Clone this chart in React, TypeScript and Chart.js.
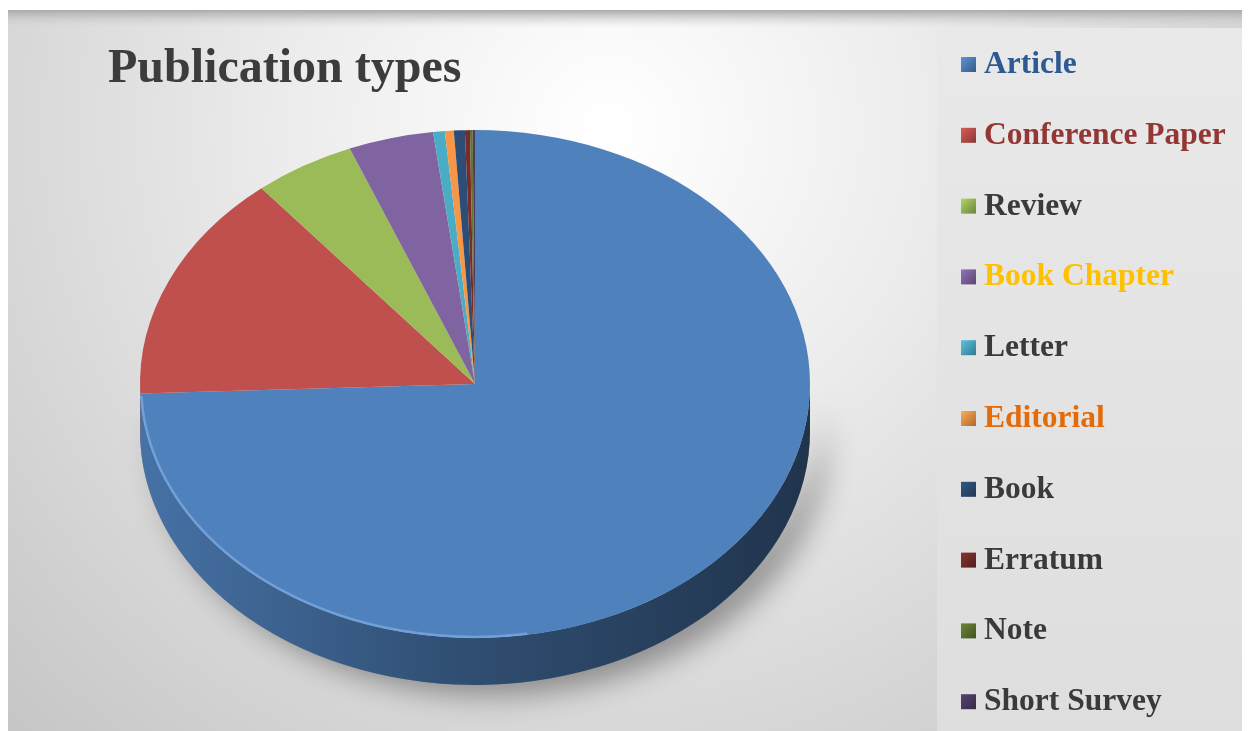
import React, { useEffect, useRef } from "react";
import { Chart, registerables } from "chart.js";

Chart.register(...registerables);

// ---- data ----
const chartTitle = "Publication types";
const categories = [
  "Article",
  "Conference Paper",
  "Review",
  "Book Chapter",
  "Letter",
  "Editorial",
  "Book",
  "Erratum",
  "Note",
  "Short Survey",
];
const shares = [74.4, 14.6, 4.9, 4.1, 0.56, 0.43, 0.53, 0.24, 0.13, 0.11];
const sliceColors = [
  "#4F81BD",
  "#C0504D",
  "#9BBB59",
  "#8064A2",
  "#4BACC6",
  "#F79646",
  "#2C4D75",
  "#772C2A",
  "#5F7530",
  "#4D3B62",
];
const labelColors = [
  "#2E5A94",
  "#943634",
  "#3A3A3A",
  "#FFC000",
  "#3A3A3A",
  "#E36C09",
  "#3A3A3A",
  "#3A3A3A",
  "#3A3A3A",
  "#3A3A3A",
];

const TILT = 0.758;
const DEPTH = 47;

function shade(hex: string, f: number): string {
  const n = parseInt(hex.slice(1), 16);
  const r = Math.round(((n >> 16) & 255) * f);
  const g = Math.round(((n >> 8) & 255) * f);
  const b = Math.round((n & 255) * f);
  return `rgb(${Math.min(255, r)},${Math.min(255, g)},${Math.min(255, b)})`;
}

const backgroundPlugin = {
  id: "bgPanel",
  beforeDraw(chart: any) {
    const { ctx, width, height } = chart;
    ctx.save();
    ctx.fillStyle = "#ffffff";
    ctx.fillRect(0, 0, width, height);
    const g = ctx.createRadialGradient(600, 120, 10, 600, 120, 900);
    g.addColorStop(0, "#ffffff");
    g.addColorStop(0.35, "#ececec");
    g.addColorStop(0.75, "#d2d2d2");
    g.addColorStop(1, "#c2c2c2");
    ctx.fillStyle = g;
    ctx.fillRect(0, 2, width, height - 2);
    // right legend panel
    const g2 = ctx.createLinearGradient(0, 20, 0, height);
    g2.addColorStop(0, "#e9e9e9");
    g2.addColorStop(1, "#dedede");
    ctx.fillStyle = g2;
    ctx.fillRect(929, 20, width - 929, height - 20);
    // top band
    const g3 = ctx.createLinearGradient(0, 2, 0, 20);
    g3.addColorStop(0, "rgba(170,170,170,1)");
    g3.addColorStop(1, "rgba(215,215,215,0)");
    ctx.fillStyle = g3;
    ctx.fillRect(0, 2, width, 18);
    ctx.restore();
  },
};

const pie3dPlugin = {
  id: "pie3d",
  beforeDatasetsDraw(chart: any) {
    const meta = chart.getDatasetMeta(0);
    const arcs = meta.data;
    if (!arcs.length) return;
    const ctx = chart.ctx;
    const p0 = arcs[0].getProps(["x", "y", "outerRadius"], true);
    const cx = p0.x;
    const cy = p0.y;
    const r = p0.outerRadius;
    const ry = r * TILT;

    // soft shadow behind the body
    ctx.save();
    ctx.shadowColor = "rgba(0,0,0,0.38)";
    ctx.shadowBlur = 30;
    ctx.shadowOffsetX = 16;
    ctx.shadowOffsetY = 10;
    ctx.fillStyle = "#888";
    ctx.beginPath();
    ctx.ellipse(cx, cy, r, ry, 0, 0, Math.PI, false);
    ctx.ellipse(cx, cy + DEPTH, r, ry, 0, Math.PI, 0, true);
    ctx.closePath();
    ctx.fill();
    ctx.restore();

    // side walls of each slice
    arcs.forEach((arc: any, i: number) => {
      const p = arc.getProps(["startAngle", "endAngle"], true);
      const a0 = Math.max(p.startAngle, 0);
      const a1 = Math.min(p.endAngle, Math.PI);
      if (a1 <= a0) return;
      const base = sliceColors[i];
      const grad = ctx.createLinearGradient(cx - r, 0, cx + r, 0);
      grad.addColorStop(0, shade(base, 0.88));
      grad.addColorStop(0.45, shade(base, 0.62));
      grad.addColorStop(1, shade(base, 0.4));
      ctx.save();
      ctx.fillStyle = grad;
      ctx.beginPath();
      ctx.ellipse(cx, cy, r, ry, 0, a0, a1, false);
      ctx.ellipse(cx, cy + DEPTH, r, ry, 0, a1, a0, true);
      ctx.closePath();
      ctx.fill();
      ctx.restore();
    });

    // squash the top face into an ellipse
    ctx.save();
    ctx.translate(cx, cy);
    ctx.scale(1, TILT);
    ctx.translate(-cx, -cy);
  },
  afterDatasetsDraw(chart: any) {
    const meta = chart.getDatasetMeta(0);
    if (!meta.data.length) return;
    const ctx = chart.ctx;
    ctx.restore();
    const p0 = meta.data[0].getProps(["x", "y", "outerRadius"], true);
    // light rim on the front edge of the top face
    ctx.save();
    ctx.strokeStyle = "rgba(140,185,240,0.55)";
    ctx.lineWidth = 2.5;
    ctx.beginPath();
    ctx.ellipse(p0.x, p0.y, p0.outerRadius - 1, p0.outerRadius * TILT - 1, 0, Math.PI * 0.45, Math.PI * 0.985, false);
    ctx.stroke();
    ctx.restore();
  },
};

const textPlugin = {
  id: "titleLegend",
  afterDraw(chart: any) {
    const ctx = chart.ctx;
    ctx.save();
    // title
    ctx.fillStyle = "#3c3c3c";
    ctx.font = 'bold 48px "Liberation Serif", "Times New Roman", serif';
    ctx.textBaseline = "alphabetic";
    ctx.textAlign = "left";
    ctx.fillText(chartTitle, 100, 74);

    // legend
    const colors = chart.data.datasets[0].backgroundColor as string[];
    const labels = chart.data.labels as string[];
    ctx.font = 'bold 31.5px "Liberation Serif", "Times New Roman", serif';
    labels.forEach((lab, i) => {
      const base = 65 + i * 70.8;
      const bx = 953;
      const by = base - 16;
      const s = 15;
      const g = ctx.createLinearGradient(bx, by, bx + s, by + s);
      g.addColorStop(0, shade(colors[i], 1.15));
      g.addColorStop(1, shade(colors[i], 0.7));
      ctx.fillStyle = g;
      ctx.fillRect(bx, by, s, s);
      ctx.fillStyle = labelColors[i];
      ctx.fillText(lab, 976, base);
    });
    ctx.restore();
  },
};

export default function App() {
  const canvasRef = useRef<HTMLCanvasElement | null>(null);

  useEffect(() => {
    if (!canvasRef.current) return;
    const chart = new Chart(canvasRef.current, {
      type: "pie",
      data: {
        labels: categories,
        datasets: [
          {
            data: shares,
            backgroundColor: sliceColors,
            borderWidth: 0,
            hoverOffset: 0,
          },
        ],
      },
      options: {
        animation: false,
        responsive: false,
        maintainAspectRatio: false,
        devicePixelRatio: 1,
        layout: { padding: { left: 0, right: 308, top: 41, bottom: 12 } },
        plugins: {
          legend: { display: false },
          title: { display: false },
          tooltip: { enabled: false },
        },
        events: [],
      },
      plugins: [backgroundPlugin, pie3dPlugin, textPlugin],
    });
    return () => chart.destroy();
  }, []);

  return (
    <div style={{ width: 1242, height: 723, position: "relative" }}>
      <canvas ref={canvasRef} width={1242} height={723} style={{ display: "block" }} />
    </div>
  );
}
